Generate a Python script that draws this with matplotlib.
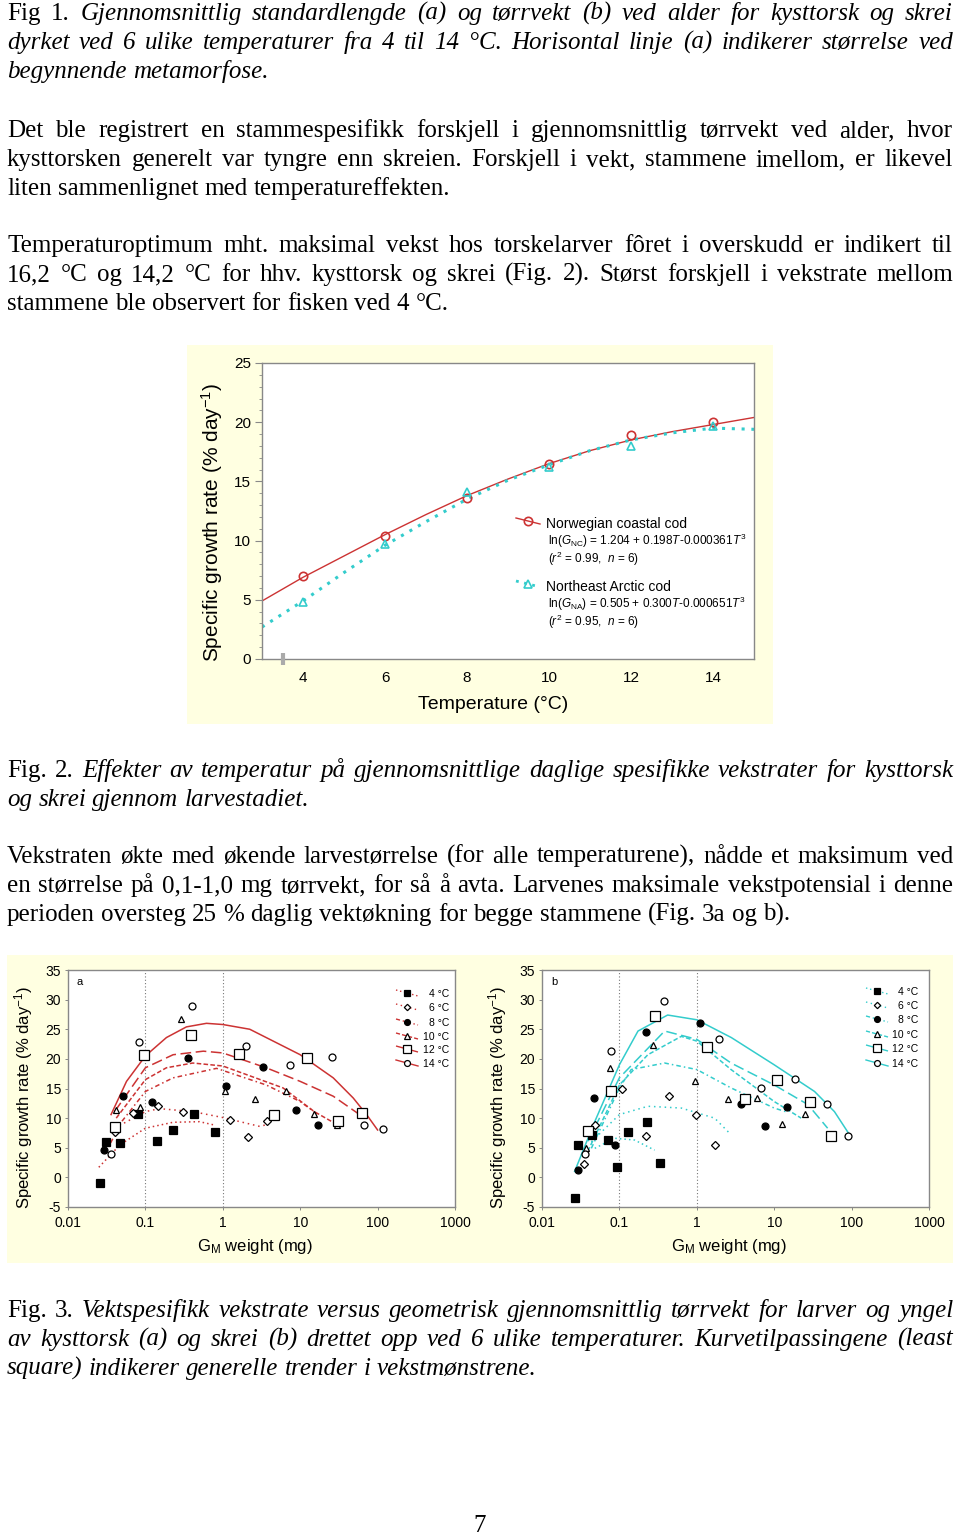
import matplotlib
matplotlib.use("Agg")
import matplotlib.pyplot as plt
import matplotlib.patches as patches
from matplotlib.ticker import FixedLocator, FixedFormatter, MultipleLocator, NullLocator

# ---------------- page text (line breaks as on the page) ----------------
CAP1_LABEL = "Fig 1."
CAP1_LINES = [
    "Gjennomsnittlig standardlengde (a) og tørrvekt (b) ved alder for kysttorsk og skrei",
    "dyrket ved 6 ulike temperaturer fra 4 til 14 °C. Horisontal linje (a) indikerer størrelse ved",
    "begynnende metamorfose.",
]
PARA2_LINES = [
    "Det ble registrert en stammespesifikk forskjell i gjennomsnittlig tørrvekt ved alder, hvor",
    "kysttorsken generelt var tyngre enn skreien. Forskjell i vekt, stammene imellom, er likevel",
    "liten sammenlignet med temperatureffekten.",
]
PARA3_LINES = [
    "Temperaturoptimum mht. maksimal vekst hos torskelarver fôret i overskudd er indikert til",
    "16,2 °C og 14,2 °C for hhv. kysttorsk og skrei (Fig. 2). Størst forskjell i vekstrate mellom",
    "stammene ble observert for fisken ved 4 °C.",
]
CAP2_LABEL = "Fig. 2."
CAP2_LINES = [
    "Effekter av temperatur på gjennomsnittlige daglige spesifikke vekstrater for kysttorsk",
    "og skrei gjennom larvestadiet.",
]
PARA4_LINES = [
    "Vekstraten økte med økende larvestørrelse (for alle temperaturene), nådde et maksimum ved",
    "en størrelse på 0,1-1,0 mg tørrvekt, for så å avta. Larvenes maksimale vekstpotensial i denne",
    "perioden oversteg 25 % daglig vektøkning for begge stammene (Fig. 3a og b).",
]
CAP3_LABEL = "Fig. 3."
CAP3_LINES = [
    "Vektspesifikk vekstrate versus geometrisk gjennomsnittlig tørrvekt for larver og yngel",
    "av kysttorsk (a) og skrei (b) drettet opp ved 6 ulike temperaturer. Kurvetilpassingene (least",
    "square) indikerer generelle trender i vekstmønstrene.",
]
PAGE_NO = "7"

# ---------------- Fig. 2 data ----------------
TEMP_OBS = [4, 6, 8, 10, 12, 14]
NC_OBS = [7.0, 10.4, 13.6, 16.5, 18.9, 20.0]
NA_OBS = [4.8, 9.7, 14.1, 16.2, 18.0, 19.7]
TEMP_FIT = [3, 4, 5, 6, 7, 8, 9, 10, 11, 12, 13, 14, 15]
NC_FIT = [4.9, 6.9, 8.7, 10.5, 12.2, 13.8, 15.2, 16.5, 17.6, 18.5, 19.2, 19.8, 20.4]
NA_FIT = [2.7, 4.9, 7.3, 9.6, 11.6, 13.5, 15.1, 16.4, 17.6, 18.5, 19.1, 19.5, 19.4]
TEMP_TICKS = [4, 6, 8, 10, 12, 14]
NC_NAME = "Norwegian coastal cod"
NA_NAME = "Northeast Arctic cod"
NC_EQ = r"ln($\mathit{G}_{\mathrm{NC}}$) = 1.204 + 0.198$\mathit{T}$-0.000361$\mathit{T}^{3}$"
NA_EQ = r"ln($\mathit{G}_{\mathrm{NA}}$) = 0.505 + 0.300$\mathit{T}$-0.000651$\mathit{T}^{3}$"
NC_STAT = r"($\mathit{r}^{2}$ = 0.99,  $\mathit{n}$ = 6)"
NA_STAT = r"($\mathit{r}^{2}$ = 0.95,  $\mathit{n}$ = 6)"

# ---------------- Fig. 3 data ----------------
TEMPS = [4, 6, 8, 10, 12, 14]
W_TICKS = [0.01, 0.1, 1, 10, 100, 1000]
W_TICKLABELS = ["0.01", "0.1", "1", "10", "100", "1000"]

# (a) Norwegian coastal cod
COAST_W = {
    4: [0.026, 0.031, 0.047, 0.081, 0.142, 0.228, 0.43, 0.80],
    6: [0.040, 0.069, 0.146, 0.31, 1.23, 2.13, 3.67],
    8: [0.0295, 0.051, 0.123, 0.35, 1.11, 3.32, 8.7, 17.1],
    10: [0.042, 0.084, 0.285, 1.06, 2.64, 6.5, 15.2, 30.1],
    12: [0.040, 0.096, 0.39, 1.61, 4.56, 12.1, 31.0, 62.1],
    14: [0.036, 0.083, 0.405, 2.02, 7.3, 25.4, 66.5, 116],
}
COAST_G = {
    4: [-1.0, 5.9, 5.8, 10.7, 6.1, 8.0, 10.7, 7.7],
    6: [7.7, 10.8, 12.0, 11.0, 9.6, 6.8, 9.5],
    8: [4.7, 13.7, 12.7, 20.1, 15.5, 18.6, 11.4, 8.9],
    10: [11.4, 11.8, 26.7, 14.6, 13.3, 14.5, 10.7, 8.9],
    12: [8.5, 20.6, 24.1, 20.8, 10.5, 20.1, 9.5, 10.8],
    14: [4.0, 22.9, 29.0, 22.1, 18.9, 20.3, 8.8, 8.2],
}
COAST_FIT_W = {
    4: [0.025, 0.047, 0.10, 0.228, 0.50, 0.80],
    6: [0.040, 0.10, 0.152, 0.41, 1.0, 3.0, 3.67],
    8: [0.030, 0.050, 0.10, 0.228, 0.83, 3.63, 10, 17],
    10: [0.042, 0.10, 0.187, 0.41, 1.0, 6.0, 15.2, 30],
    12: [0.040, 0.10, 0.228, 0.56, 1.0, 3.63, 10, 26.7, 60],
    14: [0.036, 0.057, 0.10, 0.187, 0.339, 0.615, 1.0, 2.23, 10, 26.7, 48.4, 72, 100],
}
COAST_FIT_G = {
    4: [1.7, 5.5, 8.3, 9.3, 9.4, 8.8],
    6: [8.3, 11.1, 11.6, 11.1, 10.1, 8.6, 8.9],
    8: [4.0, 9.5, 14.5, 16.8, 18.4, 15.6, 12.8, 10.6],
    10: [10.0, 16.5, 18.5, 19.3, 18.8, 15.1, 11.1, 8.9],
    12: [11.1, 18.5, 20.7, 21.3, 21.0, 18.5, 16.2, 13.7, 10.5],
    14: [10.6, 16.2, 20.5, 23.6, 25.4, 26.0, 25.8, 25.0, 20.7, 16.8, 13.4, 10.6, 8.0],
}

# (b) Northeast Arctic cod
ARCTIC_W = {
    4: [0.0269, 0.0294, 0.0447, 0.0705, 0.093, 0.128, 0.225, 0.337],
    6: [0.0345, 0.0489, 0.107, 0.218, 0.437, 0.984, 1.70],
    8: [0.0292, 0.047, 0.0877, 0.222, 1.10, 3.68, 7.5, 14.6],
    10: [0.0366, 0.0748, 0.274, 0.946, 2.52, 6.04, 12.7, 24.7],
    12: [0.0393, 0.077, 0.285, 1.34, 4.14, 10.9, 28.6, 54.5],
    14: [0.0356, 0.077, 0.38, 1.95, 6.8, 18.7, 48.4, 89.5],
}
ARCTIC_G = {
    4: [-3.4, 5.5, 7.1, 6.3, 1.8, 7.6, 9.3, 2.4],
    6: [2.3, 8.9, 14.9, 6.9, 13.7, 10.6, 5.5],
    8: [1.2, 13.4, 5.4, 24.5, 26.1, 12.4, 8.7, 11.8],
    10: [5.0, 18.5, 22.4, 16.3, 13.3, 13.4, 9.0, 10.7],
    12: [7.9, 14.5, 27.2, 22.0, 13.3, 16.4, 12.8, 6.9],
    14: [3.9, 21.4, 29.8, 23.3, 15.1, 16.6, 12.3, 6.9],
}
ARCTIC_FIT_W = {
    4: [0.048, 0.087, 0.157, 0.285],
    6: [0.0434, 0.10, 0.233, 0.63, 1.7, 2.77],
    8: [0.0434, 0.10, 0.142, 0.384, 1.0, 2.77, 10, 14],
    10: [0.039, 0.10, 0.233, 0.63, 1.0, 2.77, 10, 22.3],
    12: [0.0322, 0.10, 0.384, 1.0, 2.77, 10, 27.2, 49],
    14: [0.0264, 0.048, 0.10, 0.174, 0.42, 1.0, 2.79, 10, 33.2, 60, 94],
}
ARCTIC_FIT_G = {
    4: [4.9, 6.6, 6.3, 4.6],
    6: [6.0, 10.6, 12.0, 11.7, 10.0, 7.2],
    8: [4.9, 15.1, 18.2, 19.3, 18.2, 15.1, 11.7, 11.1],
    10: [4.4, 15.6, 20.7, 23.8, 23.0, 18.2, 12.8, 10.0],
    12: [3.8, 16.8, 24.7, 23.3, 19.3, 15.6, 12.3, 8.3],
    14: [1.0, 9.4, 19.0, 24.7, 27.4, 26.6, 23.6, 19.0, 14.5, 11.1, 7.2],
}

# ---------------- styles ----------------
RED = "#cc3333"
CYAN = "#33cccc"
YELLOW = "#ffffe1"
SPINE = "#888888"
SERIF = ["Liberation Serif", "DejaVu Serif"]
SANS = ["Liberation Sans", "DejaVu Sans"]
MARKER_STYLE = {4: ("s", True, 5.5), 6: ("D", False, 3.8), 8: ("o", True, 5.0),
                10: ("^", False, 4.5), 12: ("s", False, 6.5), 14: ("o", False, 5.0)}
LINE_STYLE = {4: (0, (1, 2)), 6: (0, (1, 2.5)), 8: (0, (3, 2, 1, 2)),
              10: (0, (3, 1.5)), 12: (0, (7, 3)), 14: "-"}

plt.rcParams["font.family"] = SANS
plt.rcParams["axes.unicode_minus"] = False
plt.rcParams["mathtext.fontset"] = "custom"
plt.rcParams["mathtext.rm"] = "Liberation Sans"
plt.rcParams["mathtext.it"] = "Liberation Sans:italic"
plt.rcParams["mathtext.bf"] = "Liberation Sans:bold"

W, H = 960, 1535
fig = plt.figure(figsize=(W / 100, H / 100), dpi=100)
fig.patch.set_facecolor("white")
RENDERER = fig.canvas.get_renderer()


def fx(px):
    return px / W


def fy(py):
    return 1 - py / H


# ---------------- justified text ----------------
X0, X1 = 7, 953


def tokens_for(label, lines):
    out = []
    for i, line in enumerate(lines):
        st = "italic" if label else "normal"
        toks = [(w, st) for w in line.split()]
        if i == 0 and label:
            toks = [(w, "normal") for w in label.split()] + toks
        out.append(toks)
    return out


def measure(word, style, size):
    t = fig.text(0, 0, word, fontsize=size, family=SERIF, fontstyle=style)
    w = t.get_window_extent(renderer=RENDERER).width
    t.remove()
    return w


blocks = [
    (tokens_for(CAP1_LABEL, CAP1_LINES), 20),
    (tokens_for(None, PARA2_LINES), 137),
    (tokens_for(None, PARA3_LINES), 252),
    (tokens_for(CAP2_LABEL, CAP2_LINES), 777),
    (tokens_for(None, PARA4_LINES), 863),
    (tokens_for(CAP3_LABEL, CAP3_LINES), 1317),
]

size = 18.0
space = 0.25 * size * 100 / 72
need = 0
for toks_list, _ in blocks:
    for toks in toks_list[:-1]:
        nat = sum(measure(w, s, size) for w, s in toks) + (len(toks) - 1) * 0.6 * space
        need = max(need, nat)
if need > X1 - X0:
    size *= (X1 - X0) / need
space = 0.25 * size * 100 / 72

for toks_list, base in blocks:
    for i, toks in enumerate(toks_list):
        widths = [measure(w, s, size) for w, s in toks]
        last = i == len(toks_list) - 1
        gap = space if last else (X1 - X0 - sum(widths)) / (len(toks) - 1)
        x = X0
        y = base + 29 * i
        for (w, s), wd in zip(toks, widths):
            fig.text(fx(x), fy(y), w, fontsize=size, family=SERIF, fontstyle=s,
                     ha="left", va="baseline")
            x += wd + gap

fig.text(fx(480), fy(1532), PAGE_NO, fontsize=size, family=SERIF, ha="center", va="baseline")

# ---------------- Fig. 2 ----------------
fig.add_artist(patches.Rectangle((fx(187), fy(724)), (773 - 187) / W, (724 - 345) / H,
                                 transform=fig.transFigure, facecolor=YELLOW,
                                 edgecolor="none", zorder=-5))
L2, R2, T2, B2 = 262, 754, 363, 659
ax2 = fig.add_axes([fx(L2), fy(B2), (R2 - L2) / W, (B2 - T2) / H])
ax2.set_facecolor("white")
ax2.plot(TEMP_FIT, NC_FIT, color=RED, lw=1.0, zorder=2)
ax2.plot(TEMP_FIT, NA_FIT, color=CYAN, lw=2.2, ls=(0, (1, 2.2)), zorder=2)
ax2.plot(TEMP_OBS, NC_OBS, ls="none", marker="o", ms=6, mfc="none", mec=RED, mew=1.2, zorder=3)
ax2.plot(TEMP_OBS, NA_OBS, ls="none", marker="^", ms=6, mfc="none", mec=CYAN, mew=1.2, zorder=3)
ax2.plot([3.5], [0], marker="|", ms=9, mew=3, color="#aaaaaa", clip_on=False, zorder=4)
ax2.set_xlim(3, 15)
ax2.set_ylim(0, 25)
ax2.set_xticks(TEMP_TICKS)
ax2.yaxis.set_major_locator(MultipleLocator(5))
ax2.yaxis.set_minor_locator(MultipleLocator(1))
ax2.tick_params(axis="x", length=0, pad=9, labelsize=11)
ax2.tick_params(axis="y", which="major", length=5, width=0.8, color=SPINE, pad=3, labelsize=11)
ax2.tick_params(axis="y", which="minor", length=2.5, width=0.6, color=SPINE)
for sp in ax2.spines.values():
    sp.set_color(SPINE)
    sp.set_linewidth(1.0)
ax2.set_ylabel("Specific growth rate (% day$^{-1}$)", fontsize=15)
ax2.yaxis.set_label_coords(-0.075, 0.46)
ax2.set_xlabel("Temperature (°C)", fontsize=14)
ax2.xaxis.set_label_coords(0.47, -0.125)


def a2(px, py):
    return (px - L2) / (R2 - L2), (B2 - py) / (B2 - T2)


for col, mk, lw, ls, yl, name, eq, stat in [
        (RED, "o", 1.0, "-", 521, NC_NAME, NC_EQ, NC_STAT),
        (CYAN, "^", 2.0, (0, (1, 2)), 584, NA_NAME, NA_EQ, NA_STAT)]:
    (xa, ya), (xb, yb) = a2(516, yl - 3), a2(540, yl + 3)
    ax2.plot([xa, xb], [ya, yb], color=col, lw=lw, ls=ls, transform=ax2.transAxes, clip_on=False)
    xm, ym = a2(528, yl)
    ax2.plot([xm], [ym], marker=mk, ms=6, mfc="none", mec=col, mew=1.2,
             transform=ax2.transAxes, clip_on=False)
    tx, ty = a2(546, yl + 3)
    ax2.text(tx, ty, name, fontsize=10, ha="left", va="center", transform=ax2.transAxes)
    tx, ty = a2(548, yl + 20)
    ax2.text(tx, ty, eq, fontsize=8.5, ha="left", va="center", transform=ax2.transAxes)
    tx, ty = a2(548, yl + 38)
    ax2.text(tx, ty, stat, fontsize=8.5, ha="left", va="center", transform=ax2.transAxes)

# ---------------- Fig. 3 ----------------
fig.add_artist(patches.Rectangle((fx(7), fy(1263)), (953 - 7) / W, (1263 - 955) / H,
                                 transform=fig.transFigure, facecolor=YELLOW,
                                 edgecolor="none", zorder=-5))
T3, B3, WID3 = 970, 1207, 387


def growth_panel(left, color, tag, obs_w, obs_g, fit_w, fit_g, leg_x0, leg_txt, leg_rows):
    ax = fig.add_axes([fx(left), fy(B3), WID3 / W, (B3 - T3) / H])
    ax.set_facecolor("white")
    ax.set_xscale("log")
    ax.set_xlim(W_TICKS[0], W_TICKS[-1])
    ax.set_ylim(-5, 35)
    for xv in W_TICKS[1:3]:
        ax.axvline(xv, color="#777777", lw=0.8, ls=(0, (1, 2)), zorder=1)
    for t in TEMPS:
        ax.plot(fit_w[t], fit_g[t], color=color, lw=1.1, ls=LINE_STYLE[t], zorder=2)
        m, filled, ms = MARKER_STYLE[t]
        ax.plot(obs_w[t], obs_g[t], ls="none", marker=m, ms=ms, mec="black",
                mfc="black" if filled else "white", mew=0.9, zorder=3)
    ax.xaxis.set_major_locator(FixedLocator(W_TICKS))
    ax.xaxis.set_major_formatter(FixedFormatter(W_TICKLABELS))
    ax.xaxis.set_minor_locator(NullLocator())
    ax.yaxis.set_major_locator(MultipleLocator(5))
    ax.tick_params(length=2.5, width=0.7, color=SPINE, labelsize=10)
    ax.tick_params(axis="x", pad=4)
    ax.tick_params(axis="y", pad=2.5)
    for sp in ax.spines.values():
        sp.set_color(SPINE)
        sp.set_linewidth(1.0)
    ax.set_ylabel("Specific growth rate (% day$^{-1}$)", fontsize=12)
    ax.yaxis.set_label_coords(-0.085, 0.46)
    ax.set_xlabel(r"G$_{\mathrm{M}}$ weight (mg)", fontsize=12)
    ax.xaxis.set_label_coords(0.482, -0.125)

    def a3(px, py):
        return (px - left) / WID3, (B3 - py) / (B3 - T3)

    ax.text(*a3(left + 12, 982), tag, fontsize=8, ha="center", va="center", transform=ax.transAxes)
    for t, yl in zip(TEMPS, leg_rows):
        (xa, ya), (xb, yb) = a3(leg_x0, yl - 3), a3(leg_x0 + 22, yl + 3)
        ax.plot([xa, xb], [ya, yb], color=color, lw=1.0, ls=LINE_STYLE[t],
                transform=ax.transAxes, clip_on=False)
        m, filled, ms = MARKER_STYLE[t]
        ax.plot(*[[v] for v in a3(leg_x0 + 11, yl)], marker=m, ms=ms * 0.85, mec="black",
                mfc="black" if filled else "white", mew=0.9, transform=ax.transAxes,
                clip_on=False)
        ax.text(*a3(leg_txt, yl + 1), f"{t} °C", fontsize=7.5, ha="right", va="center",
                transform=ax.transAxes)
    return ax


growth_panel(68, RED, "a", COAST_W, COAST_G, COAST_FIT_W, COAST_FIT_G,
             396, 449, [993, 1007, 1022, 1036, 1049, 1063])
growth_panel(542, CYAN, "b", ARCTIC_W, ARCTIC_G, ARCTIC_FIT_W, ARCTIC_FIT_G,
             866, 918, [991, 1005, 1019, 1034, 1048, 1063])

fig.savefig("out.png", dpi=100)
